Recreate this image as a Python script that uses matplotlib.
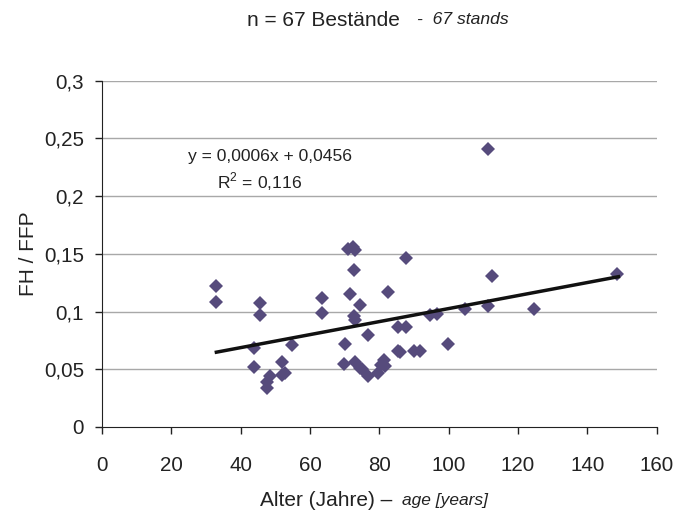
import matplotlib
matplotlib.use("Agg")
import matplotlib.pyplot as plt
from matplotlib.ticker import FuncFormatter

plt.rcParams['font.family'] = ['Liberation Sans', 'DejaVu Sans']
plt.rcParams['mathtext.fontset'] = 'custom'
plt.rcParams['mathtext.rm'] = 'Liberation Sans'

# Alter (Jahre) und FH/FFP
age = [33, 33, 45.7, 45.7, 43.8, 43.8, 48.4, 47.6, 47.5, 52.0,
       52.7, 51.8, 54.7, 63.5, 63.5, 71.0, 72.5, 73.0, 72.6, 71.5,
       74.4, 72.6, 73.1, 82.4, 87.6, 70.2, 76.7, 69.7, 73.0, 74.4,
       75.0, 76.7, 79.5, 81.3, 81.6, 80.6, 85.4, 87.7, 85.4, 86.0,
       90.0, 91.8, 111.3, 112.5, 148.7, 111.5, 124.7, 104.6, 94.7, 96.6,
       99.8]
ratio = [0.122, 0.108, 0.107, 0.097, 0.068, 0.052, 0.044, 0.039, 0.034, 0.056,
         0.047, 0.045, 0.071, 0.112, 0.099, 0.154, 0.156, 0.153, 0.136, 0.1155,
         0.106, 0.096, 0.0925, 0.117, 0.146, 0.072, 0.080, 0.055, 0.056, 0.0515,
         0.050, 0.044, 0.047, 0.058, 0.053, 0.054, 0.087, 0.087, 0.066, 0.065,
         0.066, 0.066, 0.2405, 0.131, 0.1325, 0.105, 0.1026, 0.1026, 0.097, 0.098,
         0.072]

# Trendlinie (Endpunkte)
trend_x = [33, 149]
trend_y = [0.0648, 0.1302]

xticks = [0, 20, 40, 60, 80, 100, 120, 140, 160]
yticks = [0, 0.05, 0.1, 0.15, 0.2, 0.25, 0.3]

fig = plt.figure(figsize=(6.75, 5.16), dpi=100)
ax = fig.add_axes([0.1511, 0.1725, 0.8216, 0.6711])

for yv in yticks[1:]:
    ax.axhline(yv, color='#a8a8a8', lw=1.0, zorder=0)

ax.plot(age, ratio, 'D', color='#564b7c', markersize=6.8, markeredgewidth=0, zorder=3)
ax.plot(trend_x, trend_y, color='#111111', lw=2.5, zorder=4)

ax.set_xlim(0, 160)
ax.set_ylim(0, 0.3)
ax.set_xticks(xticks)
ax.set_yticks(yticks)

def komma(v, pos):
    s = ('%g' % v)
    return s.replace('.', ',')

ax.yaxis.set_major_formatter(FuncFormatter(komma))
ax.xaxis.set_major_formatter(FuncFormatter(komma))
ax.tick_params(axis='both', labelsize=14.8, colors='#222222', length=5, width=1, direction='out')
ax.tick_params(axis='y', pad=8)
ax.tick_params(axis='x', pad=16)

ax.spines['top'].set_visible(False)
ax.spines['right'].set_visible(False)
ax.spines['left'].set_color('#222222')
ax.spines['bottom'].set_color('#222222')

# Gleichung
fig.text(270.5 / 675, 1 - 157 / 516, 'y = 0,0006x + 0,0456', ha='center', va='center',
         fontsize=12.6, color='#222222')
fig.text(259.5 / 675, 1 - 182 / 516, 'R$^{2}$ = 0,116', ha='center', va='center',
         fontsize=12.6, color='#222222')

# Titel
fig.text(247 / 675, 1 - 20 / 516, 'n = 67 Bestände', ha='left', va='center',
         fontsize=15, color='#222222')
fig.text(417 / 675, 1 - 20 / 516, '-  67 stands', ha='left', va='center',
         fontsize=12.6, style='italic', color='#222222')

# Achsenbeschriftungen
fig.text(260 / 675, 1 - 500 / 516, 'Alter (Jahre) \u2013', ha='left', va='center',
         fontsize=15, color='#222222')
fig.text(402 / 675, 1 - 500 / 516, 'age [years]', ha='left', va='center',
         fontsize=12.5, style='italic', color='#222222')
fig.text(29 / 675, 1 - 254 / 516, 'FH / FFP', ha='center', va='center', rotation=90,
         fontsize=15, color='#222222')

fig.savefig('out.png', dpi=100)
